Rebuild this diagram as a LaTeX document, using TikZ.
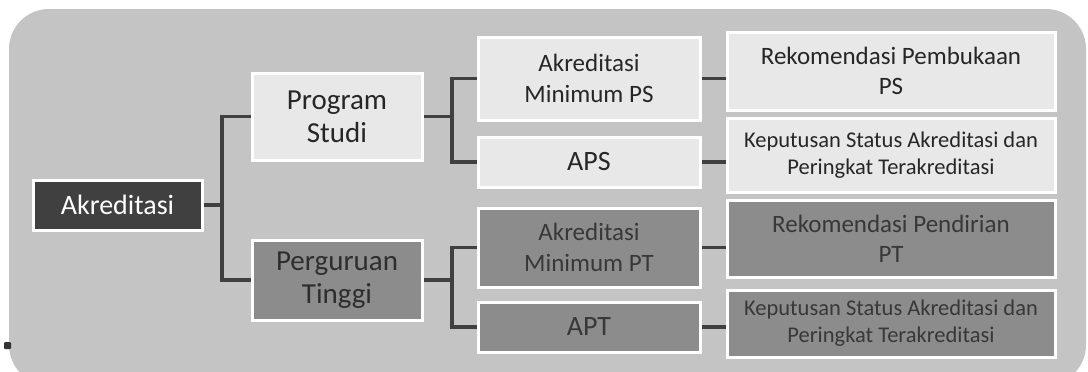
\documentclass[tikz,border=0pt]{standalone}
\usepackage{fontspec}
\setmainfont{Carlito}
\begin{document}
\begin{tikzpicture}[x=1pt,y=-1pt,
  box/.style={draw=white,line width=3pt,inner sep=0pt,align=center,anchor=center},
  lvla/.style={box,fill=black!75,text=white,font=\fontsize{28}{32}\selectfont},
  lightbox/.style={box,fill=black!9,text=black!85},
  darkbox/.style={box,fill=black!45,text=black!78},
  conn/.style={draw=black!75,line width=3.5pt}
]
\useasboundingbox (0,0) rectangle (1088,372);
\fill[black!23,rounded corners=40pt] (9,9) rectangle (1086,385);
% level 1
\node[lvla,minimum width=169pt,minimum height=50pt] (ak) at (117.5,205) {Akreditasi};
% level 2
\node[lightbox,minimum width=170pt,minimum height=87pt,font=\fontsize{29}{33}\selectfont] (ps) at (337,116.5) {Program\\Studi};
\node[darkbox,minimum width=170pt,minimum height=80pt,font=\fontsize{29}{33}\selectfont,text=black!82] (pt) at (337,280) {Perguruan\\Tinggi};
% level 3
\node[lightbox,minimum width=222pt,minimum height=83pt,font=\fontsize{25}{31}\selectfont] (amps) at (589,78.5) {Akreditasi\\Minimum PS};
\node[lightbox,minimum width=222pt,minimum height=50pt,font=\fontsize{28}{32}\selectfont] (aps) at (589,162) {APS};
\node[darkbox,minimum width=222pt,minimum height=79pt,font=\fontsize{25}{31}\selectfont] (ampt) at (589,247.5) {Akreditasi\\Minimum PT};
\node[darkbox,minimum width=222pt,minimum height=50pt,font=\fontsize{28}{32}\selectfont] (apt) at (589,327) {APT};
% level 4
\node[lightbox,minimum width=328pt,minimum height=78pt,font=\fontsize{25}{30}\selectfont] (rps) at (891,71) {Rekomendasi Pembukaan\\PS};
\node[lightbox,minimum width=328pt,minimum height=74pt,font=\fontsize{22.5}{27}\selectfont] (kps) at (891,155) {Keputusan Status Akreditasi dan\\Peringkat Terakreditasi};
\node[darkbox,minimum width=328pt,minimum height=77pt,font=\fontsize{25}{30}\selectfont] (rpt) at (891,238.5) {Rekomendasi Pendirian\\PT};
\node[darkbox,minimum width=328pt,minimum height=67pt,font=\fontsize{22.5}{27}\selectfont] (kpt) at (891,323.5) {Keputusan Status Akreditasi dan\\Peringkat Terakreditasi};
% junctions
\coordinate (j1) at (222,205);
\coordinate (j2) at (452,116.5);
\coordinate (j3) at (452,280);
% connectors
\draw[conn] (ak.east) -- (j1);
\draw[conn] (ps.west) -| (j1) |- (pt.west);
\draw[conn] (ps.east) -- (j2);
\draw[conn] (amps.west) -| (j2) |- (aps.west);
\draw[conn] (pt.east) -- (j3);
\draw[conn] (ampt.west) -| (j3) |- (apt.west);
\draw[conn] (amps.east) -- (amps.east -| rps.west);
\draw[conn] (aps.east) -- (aps.east -| kps.west);
\draw[conn] (ampt.east) -- (ampt.east -| rpt.west);
\draw[conn] (apt.east) -- (apt.east -| kpt.west);
% small mark
\fill[black!80,rounded corners=1pt] (4,342) rectangle (11,349);
\end{tikzpicture}
\end{document}
